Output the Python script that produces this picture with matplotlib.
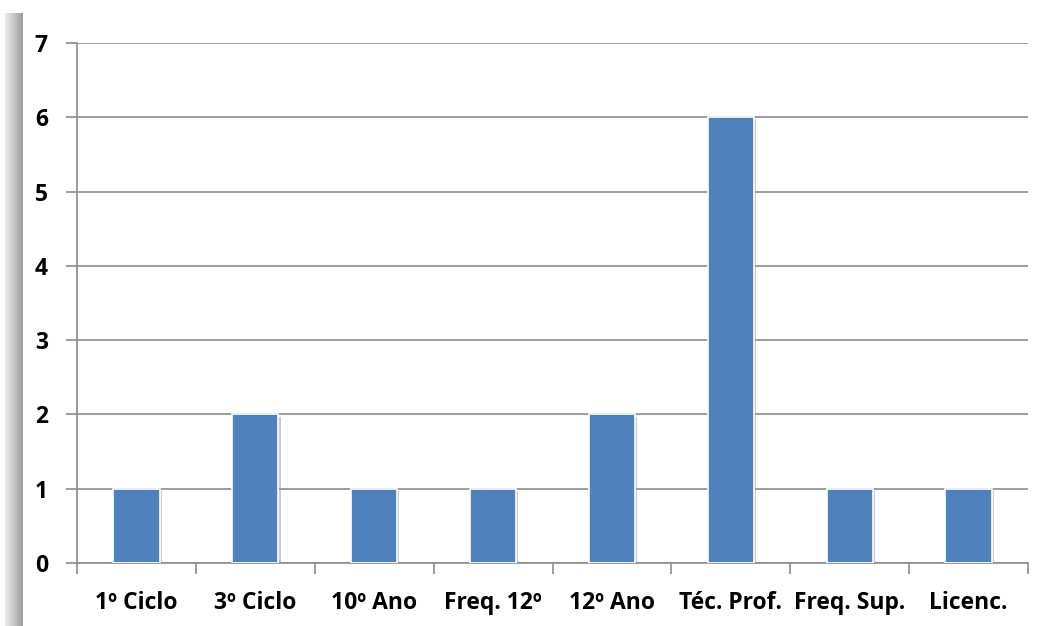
import numpy as np
import matplotlib.pyplot as plt
import matplotlib.patheffects as pe

categories = ['1º Ciclo', '3º Ciclo', '10º Ano', 'Freq. 12º', '12º Ano',
              'Téc. Prof.', 'Freq. Sup.', 'Licenc.']
values = [1, 2, 1, 1, 2, 6, 1, 1]

W, H = 1049, 626
fig = plt.figure(figsize=(W / 100, H / 100), dpi=100)
plt.rcParams['font.family'] = ['Open Sans', 'DejaVu Sans']

# grey shaded strip at the left edge
strip = fig.add_axes([5 / W, 0, 17 / W, (H - 13) / H])
grad = np.linspace(0.93, 0.62, 64).reshape(1, -1)
strip.imshow(grad, cmap='gray', vmin=0, vmax=1, aspect='auto')
strip.axis('off')

ax = fig.add_axes([77 / W, (H - 563) / H, (1028 - 77) / W, (563 - 43) / H])
x = np.arange(len(categories))
ax.bar(x, values, width=0.39, color='#4F81BD', edgecolor='white', linewidth=1.2,
       zorder=3,
       path_effects=[pe.SimplePatchShadow(offset=(1.5, -1.5), shadow_rgbFace='#999999', alpha=0.5),
                     pe.Normal()])

ax.set_xlim(-0.5, len(categories) - 0.5)
ax.set_ylim(0, 7)
ax.set_yticks(range(8))
ax.yaxis.grid(True, color='#8c8c8c', linewidth=1.2, zorder=0)
ax.set_axisbelow(True)

ax.set_xticks(x)
ax.set_xticklabels(categories, fontsize=16.5, fontweight='bold')
ax.set_xticks(np.arange(-0.5, len(categories)), minor=True)
ax.tick_params(axis='x', which='major', length=0, pad=20)
ax.tick_params(axis='x', which='minor', length=8, width=1.2, color='#8c8c8c')
ax.tick_params(axis='y', length=8, width=1.2, color='#8c8c8c', pad=13)
for lab in ax.get_yticklabels():
    lab.set_fontsize(16.5)
    lab.set_fontweight('bold')

for side in ['top', 'right']:
    ax.spines[side].set_visible(False)
for side in ['left', 'bottom']:
    ax.spines[side].set_color('#8c8c8c')
    ax.spines[side].set_linewidth(1.2)

fig.savefig('out.png', dpi=100)
